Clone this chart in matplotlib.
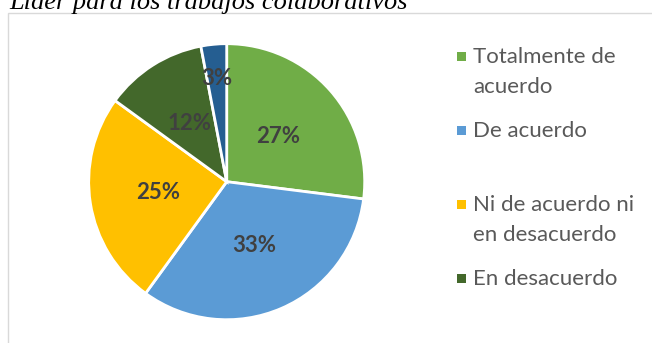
import matplotlib.pyplot as plt
from matplotlib.patches import Rectangle
import numpy as np

# datos de la encuesta
categorias = ['Totalmente de\nacuerdo', 'De acuerdo', 'Ni de acuerdo ni\nen desacuerdo',
              'En desacuerdo', 'Totalmente en\ndesacuerdo']
porcentajes = [27, 33, 25, 12, 3]
colores = ['#70AD47', '#5B9BD5', '#FFC000', '#43682B', '#255E91']

TITULO = 'Líder para los trabajos colaborativos'
W, H = 652, 343

fig = plt.figure(figsize=(W / 100, H / 100), dpi=100)

# marco del área del gráfico
fig.patches.append(Rectangle((8 / W, -0.1), 1.2, (H - 13) / H + 0.1,
                             transform=fig.transFigure, fill=False,
                             edgecolor='#D9D9D9', linewidth=1))

# titulo (cortado arriba)
fig.text(9 / W, 1 - 9.5 / H, TITULO, family='Liberation Serif', style='italic',
         fontsize=19, color='black', va='baseline', ha='left')

# pastel
cx, cy, r = 226.7, 181.7, 138
ax = fig.add_axes([(cx - r) / W, (H - cy - r) / H, 2 * r / W, 2 * r / H])
wedges, _ = ax.pie(porcentajes, colors=colores, startangle=90, counterclock=False,
                   radius=1, wedgeprops=dict(edgecolor='white', linewidth=2))
ax.set_xlim(-1, 1)
ax.set_ylim(-1, 1)
ax.set_aspect('equal')
ax.axis('off')

# etiquetas de porcentaje
for w, p in zip(wedges, porcentajes):
    ang = np.deg2rad((w.theta1 + w.theta2) / 2)
    dist = 0.5 if p >= 5 else 0.75
    ax.text(dist * np.cos(ang), dist * np.sin(ang), f'{p}%',
            ha='center', va='center', fontsize=16, fontweight='bold',
            color='#404040', family='Lato')

# leyenda: cuadro alineado con la primera línea de cada entrada
ley_x, ley_y0, paso, interlinea = 461, 56, 74, 30
for i, (cat, col) in enumerate(zip(categorias, colores)):
    y = ley_y0 + i * paso
    if y > H:
        break
    fig.patches.append(Rectangle(((ley_x - 4.5) / W, 1 - (y + 4.5) / H), 9 / W, 9 / H,
                                 transform=fig.transFigure, facecolor=col,
                                 edgecolor='none'))
    for j, linea in enumerate(cat.split('\n')):
        fig.text((ley_x + 12) / W, 1 - (y + 7.3 + j * interlinea) / H, linea,
                 family='Lato', fontsize=16, color='#595959',
                 ha='left', va='baseline')

fig.savefig('out.png', dpi=100)
